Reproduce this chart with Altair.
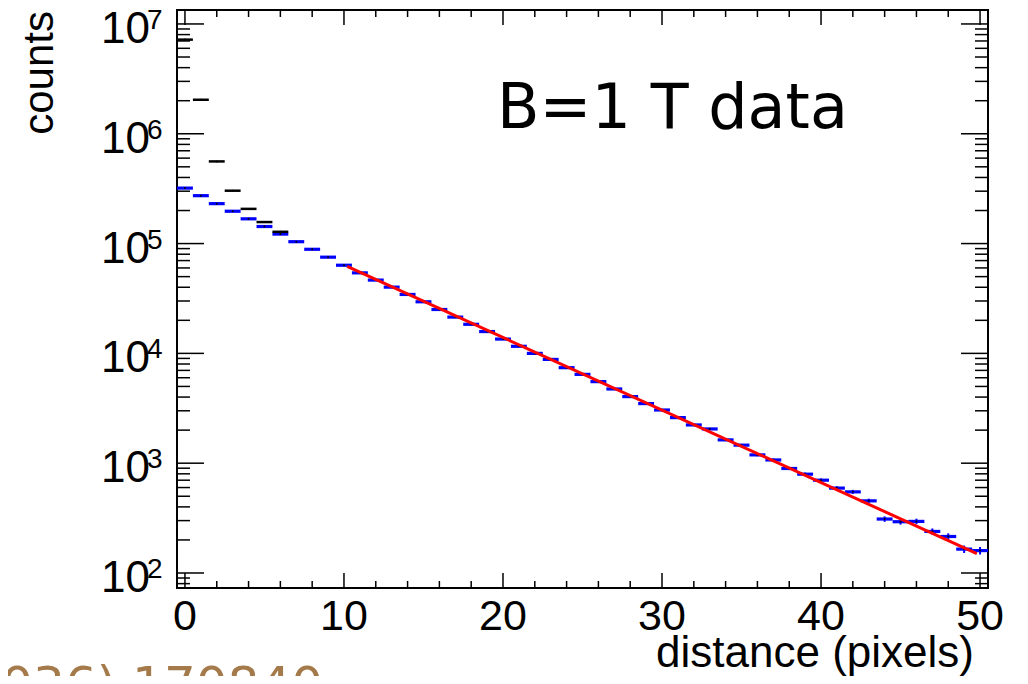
import altair as alt
import pandas as pd
import numpy as np

# ---------------- data ----------------
bins = list(range(51))
blue_counts = [3.2e5, 2.73e5, 2.31e5, 1.97e5, 1.68e5, 1.43e5, 1.22e5, 1.04e5, 8.87e4, 7.52e4,
               6.35e4, 5.41e4, 4.65e4, 4.01e4, 3.44e4, 2.95e4, 2.51e4, 2.14e4, 1.84e4, 1.58e4,
               1.35e4, 1.16e4, 1.00e4, 8810, 7410, 6440, 5530, 4740, 4040, 3490,
               3050, 2600, 2230, 2050, 1630, 1460, 1190, 1070, 895, 794,
               700, 593, 548, 454, 310, 293, 295, 239, 215, 165, 160]
black_bins = [0, 1, 2, 3, 4, 5, 6]
black_counts = [7.2e6, 2.04e6, 5.6e5, 3.03e5, 2.07e5, 1.57e5, 1.28e5]
fit_x = [10.2, 49.8]
fit_y = [6.19e4, 150]

x_major = [0, 10, 20, 30, 40, 50]
x_labels = ["0", "10", "20", "30", "40", "50"]
x_minor = [2, 4, 6, 8, 12, 14, 16, 18, 22, 24, 26, 28, 32, 34, 36, 38, 42, 44, 46, 48]
y_major = [1e2, 1e3, 1e4, 1e5, 1e6, 1e7]
y_exp = ["2", "3", "4", "5", "6", "7"]
y_minor = [m * 10 ** k for k in range(1, 7) for m in range(2, 10) if 73 <= m * 10 ** k <= 1.34e7]

x_title = "distance (pixels)"
y_title = "counts"
note_text = "B=1 T data"
ref_text = "036) 170840"

W, H = 811, 578
FONT = "Liberation Sans"

xs = alt.Scale(domain=[-0.5, 50.5], nice=False, zero=False)
ys = alt.Scale(type="log", domain=[73, 1.34e7], nice=False)

blue = pd.DataFrame({"b": bins, "c": blue_counts})
blue["x0"] = blue["b"] - 0.5
blue["x1"] = blue["b"] + 0.5
blue["lo"] = blue["c"] - np.sqrt(blue["c"])
blue["hi"] = blue["c"] + np.sqrt(blue["c"])

black = pd.DataFrame({"b": black_bins, "c": black_counts})
black["x0"] = black["b"] - 0.5
black["x1"] = black["b"] + 0.5

fit = pd.DataFrame({"x": fit_x, "y": fit_y})

# histograms
black_layer = alt.Chart(black).mark_rule(color="black", strokeWidth=2.5).encode(
    x=alt.X("x0:Q", scale=xs, axis=None), x2="x1:Q",
    y=alt.Y("c:Q", scale=ys, axis=None))
black_dot = alt.Chart(black).mark_circle(color="black", size=4, opacity=1).encode(
    x=alt.X("b:Q", scale=xs, axis=None), y=alt.Y("c:Q", scale=ys, axis=None))

blue_layer = alt.Chart(blue).mark_rule(color="#0000ff", strokeWidth=3.2).encode(
    x=alt.X("x0:Q", scale=xs, axis=None), x2="x1:Q",
    y=alt.Y("c:Q", scale=ys, axis=None))
blue_err = alt.Chart(blue).mark_rule(color="#0000ff", strokeWidth=2).encode(
    x=alt.X("b:Q", scale=xs, axis=None),
    y=alt.Y("lo:Q", scale=ys, axis=None), y2="hi:Q")
blue_dot = alt.Chart(blue).mark_circle(color="black", size=4, opacity=1).encode(
    x=alt.X("b:Q", scale=xs, axis=None), y=alt.Y("c:Q", scale=ys, axis=None))

fit_layer = alt.Chart(fit).mark_line(color="#ff0000", strokeWidth=3).encode(
    x=alt.X("x:Q", scale=xs, axis=None), y=alt.Y("y:Q", scale=ys, axis=None))


# ticks (ROOT style, inward on all four sides)
def xticks(vals, length, top):
    df = pd.DataFrame({"x": vals})
    y0, y1 = (0, length) if top else (H, H - length)
    return alt.Chart(df).mark_rule(color="black", strokeWidth=1.5).encode(
        x=alt.X("x:Q", scale=xs, axis=None), y=alt.value(y0), y2=alt.value(y1))


def yticks(vals, length, right):
    df = pd.DataFrame({"y": vals})
    x0, x1 = (W, W - length) if right else (0, length)
    return alt.Chart(df).mark_rule(color="black", strokeWidth=1.5).encode(
        y=alt.Y("y:Q", scale=ys, axis=None), x=alt.value(x0), x2=alt.value(x1))


tick_layers = [
    xticks(x_major, 15, False), xticks(x_minor, 7, False),
    xticks(x_major, 15, True), xticks(x_minor, 7, True),
    yticks(y_major, 27, False), yticks(y_minor, 13, False),
    yticks(y_major, 27, True), yticks(y_minor, 13, True),
]

# x labels
xlab = pd.DataFrame({"v": x_major, "t": x_labels})
xlab_layer = alt.Chart(xlab).mark_text(align="center", baseline="alphabetic",
                                       fontSize=43, font=FONT, color="black").encode(
    x=alt.X("v:Q", scale=xs, axis=None), y=alt.value(H + 42), text="t:N")

# y labels 10^n
ylab = pd.DataFrame({"v": y_major, "base": ["10"] * len(y_major), "exp": y_exp})
ylab_base = alt.Chart(ylab).mark_text(align="right", baseline="alphabetic", dy=19,
                                      fontSize=44, font=FONT, color="black").encode(
    x=alt.value(-27), y=alt.Y("v:Q", scale=ys, axis=None), text="base:N")
ylab_exp = alt.Chart(ylab).mark_text(align="left", baseline="alphabetic", dy=5,
                                     fontSize=28, font=FONT, color="black").encode(
    x=alt.value(-30), y=alt.Y("v:Q", scale=ys, axis=None), text="exp:N")

# titles
xt = alt.Chart(pd.DataFrame({"t": [x_title]})).mark_text(
    align="right", baseline="alphabetic", fontSize=44, font=FONT, color="black").encode(
    x=alt.value(797), y=alt.value(H + 79), text="t:N")
yt = alt.Chart(pd.DataFrame({"t": [y_title]})).mark_text(
    align="right", baseline="alphabetic", angle=270, fontSize=42, font=FONT, color="black").encode(
    x=alt.value(-124), y=alt.value(1), text="t:N")

# annotation
note = alt.Chart(pd.DataFrame({"t": [note_text]})).mark_text(
    align="left", baseline="alphabetic", fontSize=62, font="DejaVu Sans", color="black").encode(
    x=alt.value(320), y=alt.value(118), text="t:N")

ref = alt.Chart(pd.DataFrame({"t": [ref_text]})).mark_text(
    align="right", baseline="alphabetic", fontSize=50, font="DejaVu Sans", color="#a47a4a").encode(
    x=alt.value(146), y=alt.value(692), text="t:N")

chart = alt.layer(
    blue_layer, black_layer, black_dot, blue_err, blue_dot, fit_layer,
    *tick_layers, xlab_layer, ylab_base, ylab_exp, xt, yt, note, ref
).properties(
    width=W, height=H,
    autosize=alt.AutoSizeParams(type="none"),
    padding={"left": 169, "top": 2, "right": 32, "bottom": 88},
    background="white",
).configure_view(stroke="black", strokeWidth=2)

chart.save("out.html", embed_options={"renderer": "svg", "actions": False})
